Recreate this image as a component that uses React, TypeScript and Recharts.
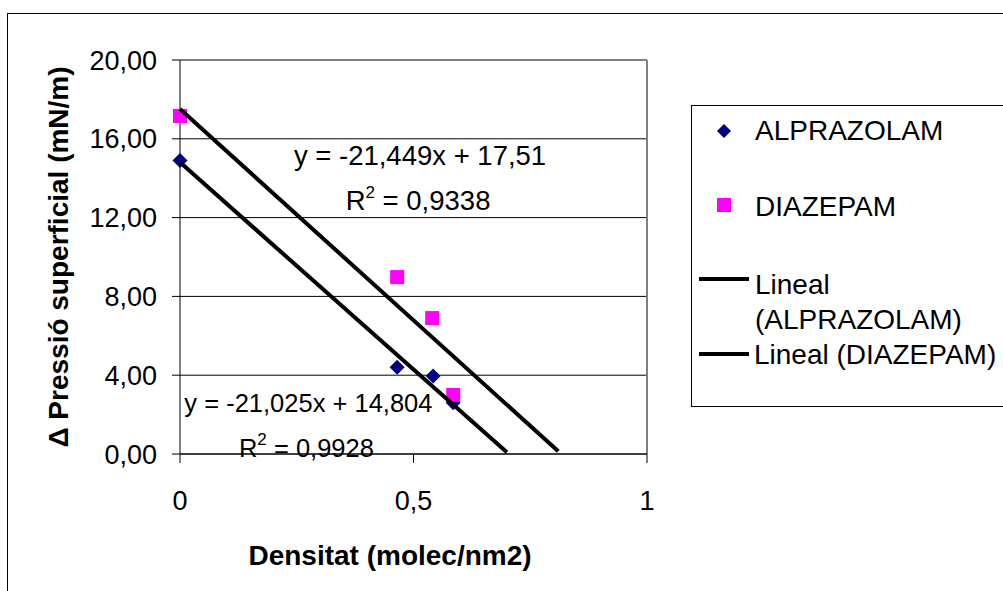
import {
  ScatterChart,
  Scatter,
  XAxis,
  YAxis,
  CartesianGrid,
  Legend,
  ReferenceLine,
  ReferenceDot,
} from "recharts";

const FONT = "'Liberation Sans', Arial, sans-serif";

// measured points (density, Δ surface pressure)
const alprazolam = [
  { x: 0, y: 14.9 },
  { x: 0.465, y: 4.4 },
  { x: 0.542, y: 3.96 },
  { x: 0.585, y: 2.6 },
];

const diazepam = [
  { x: 0, y: 17.16 },
  { x: 0.465, y: 8.98 },
  { x: 0.54, y: 6.9 },
  { x: 0.585, y: 3.0 },
];

// trendline endpoints as drawn
const alprazolamTrend = [
  { x: 0, y: 14.804 },
  { x: 0.7, y: 0.09 },
];

const diazepamTrend = [
  { x: 0, y: 17.51 },
  { x: 0.81, y: 0.14 },
];

const xTicks = [0, 0.5, 1];
const yTicks = [0, 4, 8, 12, 16, 20];

// equation labels: anchor point in data units + text
const equations = [
  { x: 0.514, y: 14.65, eq: "y = -21,449x + 17,51", r2: "0,9338", size: 27.5 },
  { x: 0.275, y: 2.15, eq: "y = -21,025x + 14,804", r2: "0,9928", size: 25.5 },
];

const seriesNames = ["ALPRAZOLAM", "DIAZEPAM"];

const fmtX = (v: number) => String(v).replace(".", ",");
const fmtY = (v: number) => v.toFixed(2).replace(".", ",");

const Diamond = (p: any) => (
  <polygon
    points={`${p.cx},${p.cy - 7.5} ${p.cx + 7.5},${p.cy} ${p.cx},${p.cy + 7.5} ${p.cx - 7.5},${p.cy}`}
    fill="#000080"
  />
);

const Square = (p: any) => (
  <rect x={p.cx - 7} y={p.cy - 7} width={14} height={14} fill="#FF00FF" />
);

const NoShape = () => <g />;

function EquationText({ cx, cy, eq, r2, size }: any) {
  return (
    <g fontFamily={FONT} fontSize={size} fill="#000">
      <text x={cx} y={cy} textAnchor="middle">
        {eq}
      </text>
      <text x={cx - 2} y={cy + 45} textAnchor="middle">
        R<tspan fontSize={17} dy={-12}>2</tspan>
        <tspan dy={12}> = {r2}</tspan>
      </text>
    </g>
  );
}

function YTitle({ viewBox }: any) {
  const cx = viewBox.x + 58;
  const cy = viewBox.y + viewBox.height / 2;
  return (
    <text
      x={cx}
      y={cy}
      transform={`rotate(-90 ${cx} ${cy})`}
      textAnchor="middle"
      fontFamily={FONT}
      fontSize={28}
      fontWeight="bold"
      fill="#000"
    >
      Δ Pressió superficial (mN/m)
    </text>
  );
}

function XTitle({ viewBox }: any) {
  const cx = viewBox.x + 210;
  const cy = viewBox.y + 111;
  return (
    <text
      x={cx}
      y={cy}
      textAnchor="middle"
      fontFamily={FONT}
      fontSize={28}
      fontWeight="bold"
      fill="#000"
    >
      Densitat (molec/nm2)
    </text>
  );
}

function LegendBox() {
  const text: React.CSSProperties = {
    position: "absolute",
    left: 63,
    fontSize: 28,
    lineHeight: "34px",
    whiteSpace: "nowrap",
    color: "#000",
  };
  const line: React.CSSProperties = {
    position: "absolute",
    left: 7,
    width: 50,
    height: 4,
    background: "#000",
  };
  return (
    <div
      style={{
        position: "relative",
        width: 320,
        height: 302,
        border: "1px solid #000",
        boxSizing: "border-box",
        fontFamily: FONT,
        background: "#fff",
      }}
    >
      <svg style={{ position: "absolute", left: 24, top: 17 }} width={16} height={16}>
        <polygon points="8,1 15,8 8,15 1,8" fill="#000080" />
      </svg>
      <div style={{ ...text, top: 8 }}>{seriesNames[0]}</div>
      <div
        style={{ position: "absolute", left: 25, top: 92, width: 14, height: 14, background: "#FF00FF" }}
      />
      <div style={{ ...text, top: 84 }}>{seriesNames[1]}</div>
      <div style={{ ...line, top: 171 }} />
      <div style={{ ...text, top: 162 }}>Lineal</div>
      <div style={{ ...text, top: 197 }}>({seriesNames[0]})</div>
      <div style={{ ...line, top: 246 }} />
      <div style={{ ...text, left: 62, top: 232 }}>Lineal ({seriesNames[1]})</div>
    </div>
  );
}

export default function App() {
  return (
    <div
      style={{
        position: "absolute",
        left: 0,
        top: 0,
        width: 1003,
        height: 591,
        overflow: "hidden",
        background: "#fff",
      }}
    >
      <div
        style={{
          position: "absolute",
          left: 7,
          top: 13,
          width: 1020,
          height: 620,
          border: "1px solid #000",
        }}
      />
      <div style={{ position: "absolute", left: 0, top: 0 }}>
        <ScatterChart
          width={1003}
          height={591}
          margin={{ top: 60, right: 356, bottom: 17, left: 10 }}
        >
          <CartesianGrid horizontal vertical={false} stroke="#000" strokeWidth={1} />
          <XAxis
            type="number"
            dataKey="x"
            domain={[0, 1]}
            ticks={xTicks}
            tickFormatter={fmtX}
            height={120}
            tickSize={9}
            tickMargin={28}
            axisLine={{ stroke: "#000" }}
            tickLine={{ stroke: "#000" }}
            tick={{ fill: "#000", fontSize: 27, fontFamily: FONT }}
            label={{ content: <XTitle /> }}
          />
          <YAxis
            type="number"
            dataKey="y"
            domain={[0, 20]}
            ticks={yTicks}
            tickFormatter={fmtY}
            width={170}
            tickSize={8}
            tickMargin={15}
            axisLine={{ stroke: "#000" }}
            tickLine={{ stroke: "#000" }}
            tick={{ fill: "#000", fontSize: 27, fontFamily: FONT }}
            label={{ content: <YTitle /> }}
          />
          <ReferenceLine y={20} stroke="#808080" strokeWidth={2} />
          <ReferenceLine x={1} stroke="#808080" strokeWidth={2} />
          <Legend
            layout="horizontal"
            align="center"
            verticalAlign="middle"
            wrapperStyle={{ left: 691, top: 105, width: 320 }}
            content={() => <LegendBox />}
          />
          <Scatter
            name={seriesNames[0]}
            data={alprazolam}
            shape={<Diamond />}
            isAnimationActive={false}
          />
          <Scatter
            name={seriesNames[1]}
            data={diazepam}
            shape={<Square />}
            isAnimationActive={false}
          />
          <Scatter
            name="Lineal (ALPRAZOLAM)"
            data={alprazolamTrend}
            line={{ stroke: "#000", strokeWidth: 4 }}
            shape={<NoShape />}
            legendType="none"
            isAnimationActive={false}
          />
          <Scatter
            name="Lineal (DIAZEPAM)"
            data={diazepamTrend}
            line={{ stroke: "#000", strokeWidth: 4 }}
            shape={<NoShape />}
            legendType="none"
            isAnimationActive={false}
          />
          {equations.map((e) => (
            <ReferenceDot
              key={e.eq}
              x={e.x}
              y={e.y}
              r={0}
              shape={(p: any) => (
                <EquationText cx={p.cx} cy={p.cy} eq={e.eq} r2={e.r2} size={e.size} />
              )}
            />
          ))}
        </ScatterChart>
      </div>
    </div>
  );
}
